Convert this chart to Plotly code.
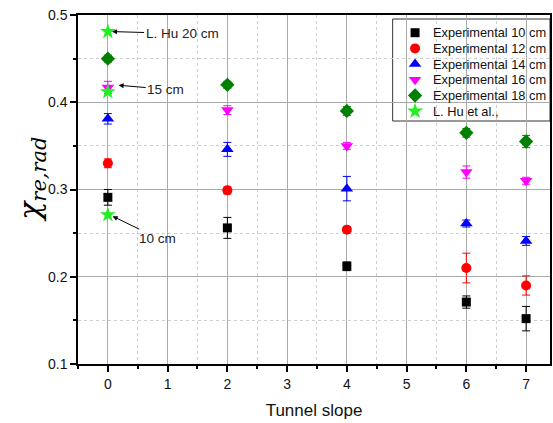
import plotly.graph_objects as go

# Tunnel slope (%) at which measurements were taken
slope = [0, 2, 4, 6, 7]

# Radiative fraction for each source size, with error bar half-widths
exp_10cm = [0.291, 0.256, 0.212, 0.171, 0.152]
err_10cm = [0.009, 0.012, 0.005, 0.007, 0.014]
exp_12cm = [0.330, 0.299, 0.254, 0.210, 0.190]
err_12cm = [0.005, 0.004, 0.003, 0.017, 0.011]
exp_14cm = [0.381, 0.346, 0.301, 0.261, 0.241]
err_14cm = [0.006, 0.008, 0.014, 0.004, 0.005]
exp_16cm = [0.417, 0.391, 0.350, 0.320, 0.310]
err_16cm = [0.007, 0.005, 0.004, 0.007, 0.004]
exp_18cm = [0.450, 0.420, 0.390, 0.365, 0.355]
err_18cm = [0.004, 0.004, 0.005, 0.005, 0.007]

# Literature values (L. Hu et al.) at zero slope
hu_slope = [0, 0, 0]
hu_values = [0.481, 0.412, 0.271]

series = [
    ("Experimental 10 cm", exp_10cm, err_10cm, "square", "#000000", 9),
    ("Experimental 12 cm", exp_12cm, err_12cm, "circle", "#ff0000", 10),
    ("Experimental 14 cm", exp_14cm, err_14cm, "triangle-up", "#0000ff", 11),
    ("Experimental 16 cm", exp_16cm, err_16cm, "triangle-down", "#ff00ff", 11),
    ("Experimental 18 cm", exp_18cm, err_18cm, "diamond", "#008000", 11),
]
hu_style = ("L. Hu et al.,", "star", "#22ee22", 12)

W, H = 553, 423
M_L, M_R, M_T, M_B = 78, 1, 15, 59
PW, PH = W - M_L - M_R, H - M_T - M_B


def px_x(p):
    return (p - M_L) / PW


def px_y(p):
    return 1 - (p - M_T) / PH


fig = go.Figure()
for name, vals, errs, sym, col, size in series:
    fig.add_trace(go.Scatter(
        x=slope, y=vals, mode="markers", name=name, showlegend=False,
        marker=dict(symbol=sym, color=col, size=size, line=dict(width=0)),
        error_y=dict(type="data", array=errs, visible=True, color=col,
                     thickness=1, width=4),
    ))

fig.add_trace(go.Scatter(
    x=hu_slope, y=hu_values, mode="markers", name=hu_style[0], showlegend=False,
    marker=dict(symbol=hu_style[1], color=hu_style[2], size=hu_style[3],
                line=dict(width=0)),
))

font_main = "Liberation Sans, Arial, sans-serif"

# Compact legend box: frame, key symbols on an overlay paper-scaled axis, labels
legend_entries = [(s[0], s[3], s[4], s[5]) for s in series] + [hu_style]
row0, row_step = 32.7, 15.7
key_x, text_x = 416.5, 432
fig.add_shape(type="rect", xref="paper", yref="paper", layer="between",
              x0=px_x(394), x1=px_x(552), y0=px_y(121), y1=px_y(19),
              fillcolor="white", line=dict(color="#333333", width=1))
for i, (name, sym, col, size) in enumerate(legend_entries):
    yc = px_y(row0 + i * row_step)
    fig.add_trace(go.Scatter(
        x=[px_x(key_x)], y=[yc], xaxis="x2", yaxis="y2", mode="markers",
        showlegend=False, hoverinfo="skip", cliponaxis=False,
        marker=dict(symbol=sym, color=col, size=size, line=dict(width=0)),
    ))
    fig.add_annotation(x=px_x(text_x), y=yc, xref="paper", yref="paper",
                       text=name, showarrow=False, xanchor="left", yanchor="middle",
                       font=dict(family=font_main, size=12.8, color="#111111"))

axis_common = dict(
    showline=True, linecolor="black", linewidth=1.5, mirror=True,
    ticks="outside", ticklen=6, tickwidth=1.5, tickcolor="black",
    showgrid=True, gridcolor="#aaaaaa", gridwidth=1, zeroline=False,
    tickfont=dict(family=font_main, size=14, color="#111111"),
)

xaxis_cfg = dict(
    **axis_common, range=[-0.5, 7.4], dtick=1, tick0=0,
    title=dict(text="Tunnel slope", font=dict(family=font_main, size=17, color="#111111"),
               standoff=14),
    minor=dict(dtick=0.5, tick0=0, ticks="outside", ticklen=3, tickcolor="black",
               showgrid=True, gridcolor="#d0d0d0", griddash="dot", gridwidth=1),
)
yaxis_cfg = dict(
    **axis_common, range=[0.1, 0.5], dtick=0.1, tick0=0.1, tickformat=".1f",
    minor=dict(dtick=0.05, ticks="outside", ticklen=3, tickcolor="black",
               showgrid=True, gridcolor="#d0d0d0", griddash="dot", gridwidth=1),
)

arrow = dict(showarrow=True, arrowhead=2, arrowsize=1, arrowwidth=1,
             arrowcolor="black", font=dict(family=font_main, size=13.5, color="#222222"),
             xref="x", yref="y", axref="pixel", ayref="pixel")

fig.add_annotation(x=0.07, y=0.481, text="L. Hu 20 cm", ax=70, ay=2, **arrow)
fig.add_annotation(x=0.18, y=0.4195, text="15 cm", ax=47, ay=4, **arrow)
fig.add_annotation(x=0.08, y=0.2694, text="10 cm", ax=45, ay=22, **arrow)

# Y-axis title drawn as a rotated annotation
fig.add_annotation(
    x=-0.100, y=0.53, xref="paper", yref="paper", showarrow=False, textangle=-90,
    xanchor="center", yanchor="middle",
    text="<i>χ</i><sub><i>re,rad</i></sub>",
    font=dict(family="DejaVu Serif, serif", size=30, color="black"),
)

fig.update_layout(
    width=W, height=H,
    margin=dict(l=M_L, r=M_R, t=M_T, b=M_B),
    paper_bgcolor="white", plot_bgcolor="white",
    showlegend=False,
    xaxis=xaxis_cfg,
    yaxis=yaxis_cfg,
    xaxis2=dict(overlaying="x", anchor="y2", range=[0, 1], visible=False,
                fixedrange=True),
    yaxis2=dict(overlaying="y", anchor="x2", range=[0, 1], visible=False,
                fixedrange=True),
)

fig.write_html("out.html")
